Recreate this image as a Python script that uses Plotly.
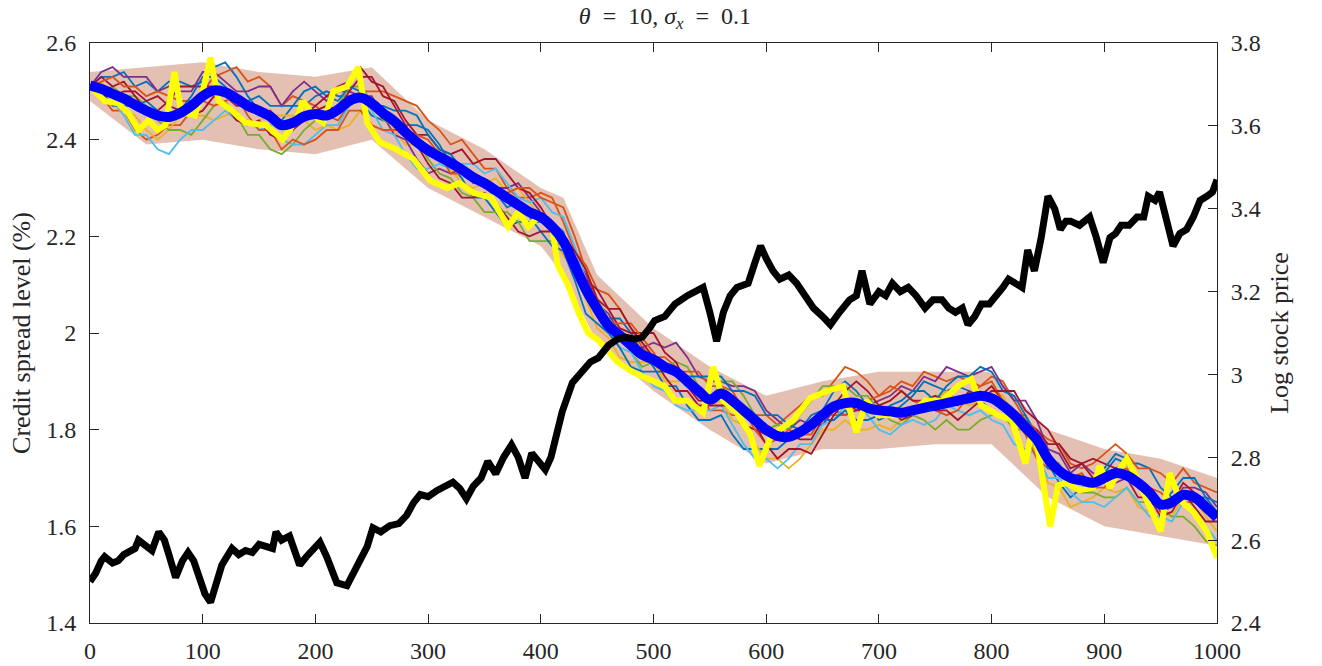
import plotly.graph_objects as go

# ---------------- data ----------------
t_grid = list(range(0, 1001, 10))

mean_path = [2.512, 2.505, 2.495, 2.485, 2.472, 2.46, 2.45, 2.447, 2.455, 2.47,
             2.49, 2.502, 2.498, 2.485, 2.47, 2.46, 2.448, 2.43, 2.435, 2.448,
             2.453, 2.45, 2.462, 2.48, 2.487, 2.475, 2.455, 2.438, 2.415, 2.395,
             2.378, 2.365, 2.352, 2.338, 2.322, 2.31, 2.295, 2.28, 2.265, 2.25,
             2.24, 2.22, 2.19, 2.14, 2.09, 2.05, 2.015, 1.995, 1.975, 1.955,
             1.945, 1.93, 1.92, 1.90, 1.88, 1.862, 1.875, 1.86, 1.84, 1.82,
             1.80, 1.787, 1.785, 1.795, 1.81, 1.83, 1.848, 1.855, 1.855, 1.845,
             1.84, 1.838, 1.835, 1.84, 1.845, 1.85, 1.855, 1.86, 1.865, 1.87,
             1.865, 1.85, 1.83, 1.805, 1.78, 1.74, 1.715, 1.70, 1.695, 1.69,
             1.70, 1.71, 1.705, 1.69, 1.67, 1.645, 1.65, 1.665, 1.66, 1.64,
             1.618]

sim_1 = [2.51, 2.53, 2.53, 2.54, 2.51, 2.52, 2.50, 2.52, 2.52, 2.51,
         2.52, 2.55, 2.56, 2.53, 2.49, 2.46, 2.44, 2.44, 2.47, 2.47,
         2.49, 2.50, 2.49, 2.49, 2.48, 2.45, 2.44, 2.44, 2.43, 2.43,
         2.42, 2.39, 2.35, 2.32, 2.28, 2.28, 2.25, 2.22, 2.23, 2.23,
         2.23, 2.23, 2.21, 2.14, 2.07, 2.04, 2.03, 2.03, 2.00, 1.96,
         1.93, 1.89, 1.89, 1.85, 1.82, 1.82, 1.83, 1.79, 1.76, 1.76,
         1.76, 1.76, 1.78, 1.80, 1.83, 1.84, 1.88, 1.90, 1.88, 1.85,
         1.82, 1.83, 1.85, 1.87, 1.90, 1.89, 1.88, 1.89, 1.88, 1.86,
         1.84, 1.83, 1.83, 1.83, 1.79, 1.73, 1.69, 1.66, 1.68, 1.69,
         1.71, 1.74, 1.73, 1.73, 1.72, 1.68, 1.66, 1.66, 1.66, 1.66,
         1.63]
sim_2 = [2.51, 2.49, 2.46, 2.46, 2.42, 2.40, 2.41, 2.43, 2.43, 2.46,
         2.50, 2.53, 2.54, 2.55, 2.52, 2.53, 2.51, 2.47, 2.49, 2.48,
         2.47, 2.45, 2.44, 2.47, 2.50, 2.50, 2.50, 2.49, 2.48, 2.47,
         2.44, 2.42, 2.39, 2.40, 2.37, 2.34, 2.34, 2.30, 2.28, 2.28,
         2.29, 2.28, 2.23, 2.17, 2.14, 2.09, 2.08, 2.05, 2.01, 1.97,
         1.95, 1.95, 1.93, 1.89, 1.88, 1.84, 1.84, 1.83, 1.83, 1.83,
         1.83, 1.81, 1.83, 1.85, 1.87, 1.87, 1.90, 1.93, 1.92, 1.90,
         1.87, 1.88, 1.90, 1.89, 1.92, 1.91, 1.90, 1.91, 1.90, 1.89,
         1.91, 1.90, 1.86, 1.82, 1.80, 1.78, 1.77, 1.73, 1.72, 1.73,
         1.75, 1.77, 1.75, 1.72, 1.72, 1.71, 1.69, 1.72, 1.69, 1.68,
         1.67]
sim_3 = [2.51, 2.52, 2.49, 2.46, 2.45, 2.42, 2.40, 2.42, 2.45, 2.45,
         2.45, 2.44, 2.45, 2.46, 2.43, 2.44, 2.45, 2.45, 2.45, 2.44,
         2.42, 2.43, 2.42, 2.43, 2.46, 2.47, 2.46, 2.42, 2.39, 2.39,
         2.38, 2.38, 2.34, 2.31, 2.30, 2.31, 2.32, 2.29, 2.30, 2.27,
         2.24, 2.20, 2.16, 2.13, 2.07, 2.01, 1.99, 1.95, 1.94, 1.94,
         1.94, 1.90, 1.90, 1.90, 1.89, 1.85, 1.86, 1.82, 1.81, 1.77,
         1.74, 1.74, 1.72, 1.74, 1.77, 1.80, 1.80, 1.82, 1.80, 1.80,
         1.81, 1.80, 1.82, 1.84, 1.84, 1.86, 1.88, 1.86, 1.85, 1.86,
         1.88, 1.87, 1.83, 1.79, 1.75, 1.69, 1.68, 1.64, 1.65, 1.66,
         1.68, 1.67, 1.68, 1.64, 1.63, 1.63, 1.62, 1.66, 1.66, 1.62,
         1.59]
sim_4 = [2.51, 2.54, 2.55, 2.53, 2.53, 2.53, 2.50, 2.51, 2.50, 2.50,
         2.54, 2.54, 2.52, 2.50, 2.50, 2.51, 2.51, 2.47, 2.50, 2.52,
         2.50, 2.48, 2.50, 2.50, 2.49, 2.49, 2.45, 2.41, 2.40, 2.36,
         2.33, 2.34, 2.33, 2.34, 2.33, 2.30, 2.30, 2.30, 2.31, 2.28,
         2.25, 2.21, 2.19, 2.16, 2.12, 2.06, 2.04, 2.00, 1.97, 1.97,
         1.98, 1.97, 1.98, 1.95, 1.91, 1.90, 1.90, 1.89, 1.89, 1.88,
         1.84, 1.82, 1.80, 1.82, 1.81, 1.81, 1.84, 1.83, 1.84, 1.85,
         1.86, 1.87, 1.89, 1.88, 1.91, 1.90, 1.93, 1.92, 1.91, 1.92,
         1.93, 1.89, 1.86, 1.86, 1.82, 1.76, 1.75, 1.71, 1.73, 1.71,
         1.70, 1.69, 1.70, 1.70, 1.67, 1.63, 1.64, 1.68, 1.68, 1.67,
         1.64]
sim_5 = [2.51, 2.50, 2.51, 2.49, 2.49, 2.47, 2.44, 2.42, 2.42, 2.41,
         2.44, 2.47, 2.48, 2.45, 2.41, 2.41, 2.38, 2.37, 2.39, 2.42,
         2.44, 2.45, 2.47, 2.51, 2.51, 2.48, 2.44, 2.43, 2.43, 2.40,
         2.36, 2.33, 2.32, 2.29, 2.28, 2.25, 2.25, 2.25, 2.23, 2.19,
         2.19, 2.19, 2.18, 2.12, 2.09, 2.07, 2.03, 2.00, 1.96, 1.93,
         1.94, 1.93, 1.94, 1.93, 1.89, 1.86, 1.90, 1.90, 1.87, 1.83,
         1.80, 1.81, 1.80, 1.83, 1.86, 1.89, 1.89, 1.89, 1.87, 1.87,
         1.84, 1.82, 1.81, 1.83, 1.82, 1.80, 1.82, 1.80, 1.80, 1.82,
         1.83, 1.83, 1.80, 1.80, 1.76, 1.74, 1.73, 1.69, 1.67, 1.67,
         1.66, 1.66, 1.68, 1.65, 1.65, 1.64, 1.62, 1.62, 1.60, 1.57,
         1.56]
sim_6 = [2.51, 2.48, 2.48, 2.45, 2.41, 2.41, 2.38, 2.37, 2.40, 2.42,
         2.42, 2.44, 2.46, 2.44, 2.44, 2.42, 2.43, 2.40, 2.39, 2.39,
         2.41, 2.43, 2.43, 2.47, 2.49, 2.46, 2.42, 2.41, 2.37, 2.34,
         2.34, 2.35, 2.34, 2.35, 2.35, 2.33, 2.34, 2.31, 2.28, 2.27,
         2.28, 2.25, 2.24, 2.18, 2.11, 2.05, 2.01, 1.97, 1.96, 1.92,
         1.89, 1.88, 1.85, 1.84, 1.84, 1.84, 1.85, 1.81, 1.77, 1.74,
         1.74, 1.72, 1.74, 1.77, 1.77, 1.81, 1.82, 1.85, 1.86, 1.83,
         1.80, 1.79, 1.81, 1.82, 1.81, 1.82, 1.85, 1.84, 1.83, 1.84,
         1.82, 1.81, 1.77, 1.76, 1.75, 1.70, 1.70, 1.67, 1.65, 1.65,
         1.64, 1.66, 1.68, 1.65, 1.62, 1.62, 1.61, 1.65, 1.63, 1.60,
         1.57]
sim_7 = [2.51, 2.53, 2.51, 2.52, 2.49, 2.46, 2.46, 2.48, 2.51, 2.51,
         2.51, 2.51, 2.49, 2.47, 2.47, 2.45, 2.46, 2.43, 2.42, 2.44,
         2.46, 2.47, 2.46, 2.50, 2.53, 2.53, 2.49, 2.48, 2.44, 2.41,
         2.41, 2.38, 2.37, 2.38, 2.35, 2.36, 2.36, 2.33, 2.30, 2.29,
         2.26, 2.22, 2.18, 2.15, 2.11, 2.09, 2.05, 2.01, 2.00, 2.00,
         2.00, 1.96, 1.94, 1.89, 1.86, 1.86, 1.89, 1.85, 1.81, 1.80,
         1.79, 1.80, 1.79, 1.78, 1.78, 1.82, 1.85, 1.88, 1.90, 1.88,
         1.85, 1.84, 1.82, 1.83, 1.86, 1.87, 1.86, 1.85, 1.88, 1.87,
         1.89, 1.86, 1.82, 1.81, 1.80, 1.77, 1.77, 1.74, 1.73, 1.74,
         1.73, 1.72, 1.73, 1.69, 1.65, 1.64, 1.65, 1.69, 1.67, 1.63,
         1.62]
sim_8 = [2.51, 2.52, 2.53, 2.51, 2.51, 2.49, 2.50, 2.49, 2.48, 2.48,
         2.48, 2.47, 2.48, 2.49, 2.45, 2.42, 2.42, 2.38, 2.40, 2.39,
         2.40, 2.42, 2.42, 2.46, 2.46, 2.43, 2.42, 2.42, 2.42, 2.41,
         2.40, 2.37, 2.33, 2.33, 2.33, 2.31, 2.29, 2.29, 2.30, 2.30,
         2.28, 2.27, 2.26, 2.20, 2.13, 2.07, 2.02, 2.02, 2.02, 1.99,
         1.96, 1.92, 1.92, 1.92, 1.92, 1.89, 1.89, 1.88, 1.84, 1.80,
         1.77, 1.78, 1.80, 1.79, 1.79, 1.83, 1.83, 1.83, 1.85, 1.86,
         1.87, 1.89, 1.88, 1.86, 1.85, 1.84, 1.83, 1.84, 1.87, 1.89,
         1.90, 1.86, 1.82, 1.79, 1.74, 1.72, 1.71, 1.70, 1.71, 1.68,
         1.68, 1.71, 1.72, 1.68, 1.68, 1.67, 1.65, 1.65, 1.65, 1.65,
         1.62]
sim_9 = [2.51, 2.50, 2.47, 2.47, 2.47, 2.48, 2.46, 2.44, 2.46, 2.49,
         2.53, 2.53, 2.51, 2.48, 2.48, 2.49, 2.47, 2.47, 2.47, 2.50,
         2.51, 2.49, 2.48, 2.51, 2.50, 2.47, 2.47, 2.46, 2.46, 2.45,
         2.41, 2.38, 2.37, 2.34, 2.31, 2.32, 2.29, 2.26, 2.27, 2.24,
         2.21, 2.18, 2.17, 2.11, 2.04, 2.02, 2.00, 1.97, 1.93, 1.92,
         1.92, 1.92, 1.92, 1.91, 1.91, 1.91, 1.91, 1.88, 1.88, 1.87,
         1.83, 1.83, 1.81, 1.80, 1.82, 1.82, 1.82, 1.84, 1.82, 1.82,
         1.83, 1.85, 1.86, 1.88, 1.88, 1.86, 1.89, 1.91, 1.91, 1.93,
         1.92, 1.88, 1.87, 1.83, 1.78, 1.72, 1.72, 1.71, 1.69, 1.70,
         1.72, 1.75, 1.74, 1.70, 1.66, 1.65, 1.67, 1.70, 1.70, 1.66,
         1.65]
sim_10 = [2.51, 2.49, 2.49, 2.50, 2.50, 2.48, 2.49, 2.47, 2.46, 2.45,
          2.46, 2.49, 2.47, 2.44, 2.43, 2.44, 2.41, 2.40, 2.43, 2.45,
          2.47, 2.49, 2.51, 2.52, 2.55, 2.52, 2.51, 2.47, 2.43, 2.39,
          2.35, 2.32, 2.31, 2.28, 2.28, 2.29, 2.27, 2.24, 2.21, 2.20,
          2.21, 2.21, 2.20, 2.17, 2.13, 2.07, 2.05, 2.05, 2.01, 1.98,
          1.95, 1.91, 1.88, 1.88, 1.85, 1.85, 1.85, 1.85, 1.85, 1.81,
          1.77, 1.74, 1.76, 1.76, 1.75, 1.79, 1.83, 1.86, 1.84, 1.84,
          1.85, 1.86, 1.88, 1.86, 1.86, 1.84, 1.84, 1.82, 1.84, 1.86,
          1.88, 1.88, 1.88, 1.84, 1.82, 1.80, 1.76, 1.72, 1.73, 1.70,
          1.69, 1.72, 1.70, 1.66, 1.66, 1.62, 1.63, 1.67, 1.64, 1.61,
          1.61]
sim_paths = [sim_1, sim_2, sim_3, sim_4, sim_5, sim_6, sim_7, sim_8, sim_9, sim_10]

band_t = [0, 50, 100, 150, 200, 250, 300, 350, 400, 420, 450, 500, 550, 600,
          650, 700, 750, 800, 850, 900, 950, 1000]
band_hi = [2.54, 2.55, 2.56, 2.54, 2.53, 2.55, 2.44, 2.38, 2.30, 2.28, 2.12, 2.01,
           1.93, 1.87, 1.90, 1.92, 1.92, 1.92, 1.80, 1.76, 1.74, 1.70]
band_lo = [2.48, 2.39, 2.40, 2.38, 2.37, 2.40, 2.30, 2.24, 2.18, 2.12, 1.98, 1.88,
           1.80, 1.73, 1.76, 1.76, 1.77, 1.77, 1.66, 1.60, 1.58, 1.56]

obs_t = [0, 5, 13, 25, 34, 43, 52, 60, 67, 75,
         80, 84, 93, 100, 107, 114, 126, 138, 156, 171,
         183, 189, 198, 207, 216, 228, 238, 246, 257, 272,
         287, 302, 317, 328, 340, 356, 371, 380, 389, 400,
         410, 415, 424, 433, 442, 451, 460, 468, 481, 495,
         510, 519, 530, 544, 553, 562, 574, 586, 594, 603,
         612, 624, 639, 654, 668, 680, 689, 699, 717, 729,
         741, 756, 770, 782, 791, 806, 818, 830, 836, 841,
         852, 859, 866, 878, 890, 896, 905, 914, 920, 929,
         940, 950, 958, 967, 979, 991, 1000]
obs_v = [2.51, 2.50, 2.48, 2.475, 2.455, 2.42, 2.44, 2.42, 2.43, 2.54,
         2.47, 2.455, 2.45, 2.50, 2.57, 2.48, 2.46, 2.435, 2.43, 2.40,
         2.44, 2.48, 2.45, 2.435, 2.50, 2.51, 2.55, 2.435, 2.395, 2.38,
         2.36, 2.315, 2.30, 2.31, 2.29, 2.28, 2.22, 2.25, 2.22, 2.245,
         2.22, 2.14, 2.10, 2.045, 2.00, 1.985, 1.96, 1.94, 1.92, 1.905,
         1.89, 1.86, 1.86, 1.835, 1.93, 1.86, 1.835, 1.79, 1.725, 1.78,
         1.80, 1.82, 1.865, 1.88, 1.89, 1.795, 1.86, 1.83, 1.83, 1.835,
         1.86, 1.86, 1.89, 1.905, 1.85, 1.83, 1.82, 1.73, 1.80, 1.76,
         1.60, 1.685, 1.69, 1.675, 1.68, 1.725, 1.68, 1.72, 1.74, 1.70,
         1.64, 1.59, 1.71, 1.655, 1.63, 1.59, 1.535]

stock_t = [0, 5, 10, 13, 20, 25, 30, 34, 40, 43,
           50, 55, 61, 66, 70, 76, 82, 87, 92, 96,
           102, 107, 112, 117, 126, 132, 138, 144, 150, 156,
           162, 165, 170, 177, 186, 192, 198, 204, 210, 215,
           219, 228, 234, 240, 246, 251, 258, 266, 274, 281,
           287, 293, 300, 308, 315, 322, 328, 334, 340, 347,
           353, 360, 367, 374, 380, 386, 392, 398, 404, 409,
           413, 419, 428, 437, 444, 451, 460, 468, 475, 483,
           490, 496, 501, 510, 519, 530, 544, 550, 556, 562,
           568, 574, 584, 590, 595, 600, 606, 612, 620, 627,
           635, 642, 650, 657, 665, 674, 680, 685, 692, 700,
           706, 712, 719, 726, 733, 741, 748, 756, 762, 768,
           774, 779, 785, 791, 798, 805, 810, 815, 822, 827,
           832, 838, 844, 850, 856, 861, 866, 870, 878, 887,
           893, 899, 905, 910, 915, 922, 929, 935, 939, 945,
           949, 955, 961, 967, 973, 979, 985, 991, 996, 1000]
stock_v = [2.50, 2.52, 2.55, 2.56, 2.545, 2.55, 2.565, 2.57, 2.58, 2.60,
           2.585, 2.575, 2.62, 2.60, 2.565, 2.51, 2.55, 2.57, 2.55, 2.52,
           2.47, 2.45, 2.49, 2.54, 2.58, 2.565, 2.575, 2.57, 2.59, 2.585,
           2.58, 2.62, 2.60, 2.61, 2.54, 2.56, 2.575, 2.595, 2.56, 2.52,
           2.497, 2.49, 2.52, 2.55, 2.585, 2.63, 2.62, 2.635, 2.64, 2.66,
           2.69, 2.71, 2.705, 2.72, 2.73, 2.74, 2.725, 2.70, 2.73, 2.75,
           2.79, 2.76, 2.80, 2.83, 2.80, 2.75, 2.81, 2.79, 2.77, 2.80,
           2.84, 2.91, 2.98, 3.01, 3.03, 3.04, 3.07, 3.085, 3.09, 3.085,
           3.09, 3.11, 3.13, 3.14, 3.17, 3.19, 3.21, 3.15, 3.08, 3.15,
           3.19, 3.21, 3.22, 3.27, 3.31, 3.28, 3.25, 3.23, 3.24, 3.22,
           3.19, 3.16, 3.14, 3.12, 3.15, 3.18, 3.19, 3.25, 3.17, 3.20,
           3.19, 3.22, 3.20, 3.21, 3.19, 3.16, 3.18, 3.18, 3.16, 3.15,
           3.16, 3.12, 3.14, 3.17, 3.17, 3.19, 3.21, 3.23, 3.22, 3.21,
           3.30, 3.25, 3.33, 3.43, 3.40, 3.35, 3.37, 3.37, 3.36, 3.38,
           3.33, 3.27, 3.33, 3.34, 3.36, 3.36, 3.38, 3.38, 3.43, 3.42,
           3.44, 3.38, 3.31, 3.34, 3.35, 3.38, 3.42, 3.43, 3.44, 3.47]

x_ticks = list(range(0, 1001, 100))
left_ticks = [1.4, 1.6, 1.8, 2.0, 2.2, 2.4, 2.6]
right_ticks = [2.4, 2.6, 2.8, 3.0, 3.2, 3.4, 3.6, 3.8]

# ---------------- styles ----------------
path_colors = ["#0072BD", "#D95319", "#EDB120", "#7E2F8E", "#77AC30",
               "#4DBEEE", "#A2142F", "#D95319", "#0072BD", "#A2142F"]
axis_color = "#262626"
font_family = "Liberation Serif"

fig = go.Figure()

# envelope of the simulated paths
fig.add_trace(go.Scatter(x=band_t, y=band_lo, mode="lines", line=dict(width=0),
                         hoverinfo="skip", showlegend=False))
fig.add_trace(go.Scatter(x=band_t, y=band_hi, mode="lines", line=dict(width=0),
                         fill="tonexty", fillcolor="rgba(195,115,85,0.45)",
                         hoverinfo="skip", showlegend=False))

for path, col in zip(sim_paths, path_colors):
    fig.add_trace(go.Scatter(x=t_grid, y=path, mode="lines",
                             line=dict(color=col, width=1.8), showlegend=False))

fig.add_trace(go.Scatter(x=obs_t, y=obs_v, mode="lines",
                         line=dict(color="#FFFF00", width=6), showlegend=False))
fig.add_trace(go.Scatter(x=t_grid, y=mean_path, mode="lines",
                         line=dict(color="#0000FF", width=10, shape="spline"), showlegend=False))
fig.add_trace(go.Scatter(x=stock_t, y=stock_v, mode="lines", yaxis="y2",
                         line=dict(color="#000000", width=7), showlegend=False))

sp = "\u2002"
fig.update_layout(
    width=1322, height=666,
    margin=dict(l=90, r=105, t=43, b=43),
    paper_bgcolor="white", plot_bgcolor="white",
    showlegend=False,
    font=dict(family=font_family, size=24, color=axis_color),
    title=dict(text="<i>θ</i>" + sp + "=" + sp + "10, <i>σ<sub>x</sub></i>" + sp + "=" + sp + "0.1",
               x=0.503, xanchor="center", y=0.977, yanchor="middle",
               font=dict(family=font_family, size=24, color=axis_color)),
    xaxis=dict(range=[0, 1000], tickvals=x_ticks, ticks="inside", ticklen=9,
               tickcolor=axis_color, showline=True, linecolor=axis_color, linewidth=1,
               mirror="ticks", showgrid=False, zeroline=False, automargin=False,
               tickfont=dict(size=24), ticklabelstandoff=6),
    yaxis=dict(range=[1.4, 2.6], tickvals=left_ticks, ticks="inside", ticklen=9,
               tickcolor=axis_color, showline=True, linecolor=axis_color, linewidth=1,
               mirror=True, showgrid=False, zeroline=False, automargin=False,
               title=dict(text="Credit spread level (%)", font=dict(size=26), standoff=8),
               tickfont=dict(size=24), ticklabelstandoff=8),
    yaxis2=dict(range=[2.4, 3.8], tickvals=right_ticks, ticks="inside", ticklen=9,
                tickcolor=axis_color, showline=True, linecolor=axis_color, linewidth=1,
                overlaying="y", side="right", showgrid=False, zeroline=False, automargin=False,
                title=dict(text="Log stock price", font=dict(size=26), standoff=10),
                tickfont=dict(size=24), ticklabelstandoff=8),
)

fig.write_html("out.html")
